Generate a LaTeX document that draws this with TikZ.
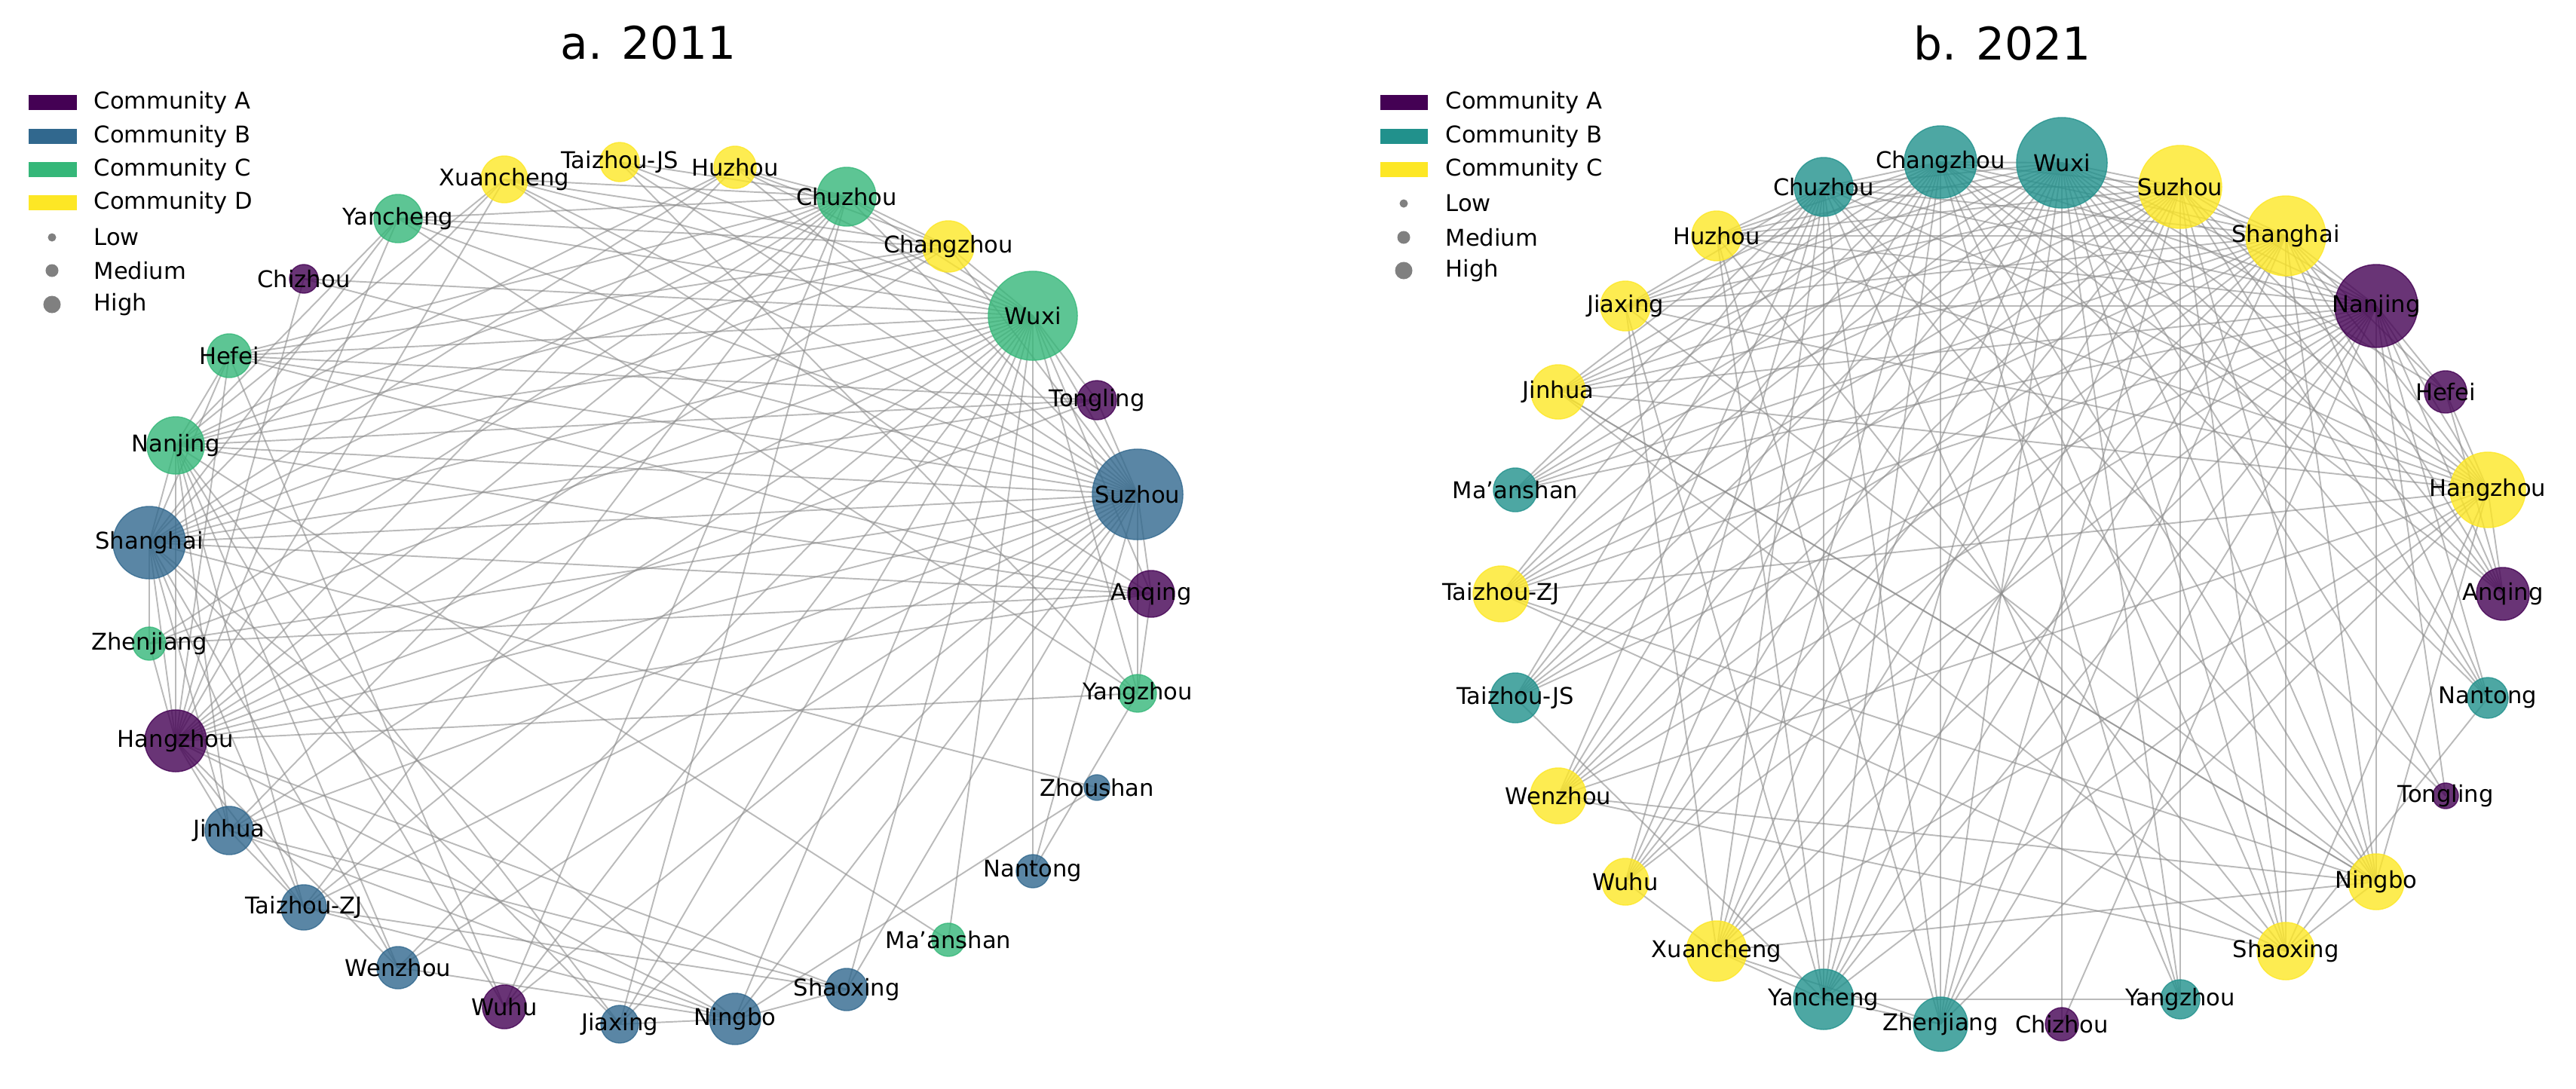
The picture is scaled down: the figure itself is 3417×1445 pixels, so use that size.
\documentclass[tikz,border=0pt]{standalone}
\usepackage{fontspec}
\setmainfont{DejaVu Sans}
\usetikzlibrary{backgrounds}
\definecolor{vA}{HTML}{440154}
\definecolor{vB}{HTML}{31688E}
\definecolor{vC}{HTML}{35B779}
\definecolor{vD}{HTML}{FDE725}
\definecolor{wB}{HTML}{21918C}
\tikzset{
  city/.style={circle,inner sep=0pt,draw=#1,fill=#1,fill opacity=0.8,draw opacity=0.8,line width=0.4pt},
  lbl/.style={inner sep=0pt,font=\fontsize{8.7}{10}\selectfont,text=black},
  edge/.style={draw=black!45,draw opacity=0.6,line width=0.55pt},
  ttl/.style={inner sep=0pt,font=\fontsize{17}{20}\selectfont},
  leg/.style={inner sep=0pt,anchor=west,font=\fontsize{8.7}{10}\selectfont},
  patch/.style={inner sep=0pt,minimum width=0.63cm,minimum height=0.2cm,fill=#1},
  dot/.style={circle,inner sep=0pt,fill=gray,minimum size=#1},
}
\newcommand\city[7]{%
  \node[city=#5,minimum size=#4*0.02cm] (#1) at (#2,#3) {};
  \node[lbl] (#1-t) at (#1) {#6};}
\begin{document}
\begin{tikzpicture}[x=0.01cm,y=-0.01cm]
\useasboundingbox (0,0) rectangle (3417,1445);
% titles
\node[ttl] (ta) at (860,57) {a. 2011};
\node[ttl] (tb) at (2656,57) {b. 2021};
% legend a
\node[patch=vA] (la1) at (70,136) {}; \node[leg] (la1t) at (124,136) {Community A};
\node[patch=vB] (la2) at (70,181) {}; \node[leg] (la2t) at (124,181) {Community B};
\node[patch=vC] (la3) at (70,225) {}; \node[leg] (la3t) at (124,225) {Community C};
\node[patch=vD] (la4) at (70,269) {}; \node[leg] (la4t) at (124,269) {Community D};
\node[dot=0.11cm] (la5) at (69,315) {}; \node[leg] (la5t) at (124,315) {Low};
\node[dot=0.17cm] (la6) at (69,359) {}; \node[leg] (la6t) at (124,359) {Medium};
\node[dot=0.23cm] (la7) at (69,404) {}; \node[leg] (la7t) at (124,404) {High};
% legend b
\node[patch=vA] (lb1) at (1862,136) {}; \node[leg] (lb1t) at (1917,136) {Community A};
\node[patch=wB] (lb2) at (1862,181) {}; \node[leg] (lb2t) at (1917,181) {Community B};
\node[patch=vD] (lb3) at (1862,225) {}; \node[leg] (lb3t) at (1917,225) {Community C};
\node[dot=0.11cm] (lb5) at (1862,270) {}; \node[leg] (lb5t) at (1917,270) {Low};
\node[dot=0.17cm] (lb6) at (1862,315) {}; \node[leg] (lb6t) at (1917,315) {Medium};
\node[dot=0.23cm] (lb7) at (1862,359) {}; \node[leg] (lb7t) at (1917,359) {High};
% ---- panel a nodes
\city{aXuancheng}{669}{238}{31}{vD}{Xuancheng}{}
\city{aTaizhouJS}{822}{215}{26}{vD}{Taizhou-JS}{}
\city{aHuzhou}{975}{222}{28}{vD}{Huzhou}{}
\city{aChuzhou}{1123}{261}{39}{vC}{Chuzhou}{}
\city{aChangzhou}{1258}{327}{34}{vD}{Changzhou}{}
\city{aWuxi}{1370}{419}{59}{vC}{Wuxi}{}
\city{aTongling}{1455}{531}{26}{vA}{Tongling}{}
\city{aSuzhou}{1509}{656}{60}{vB}{Suzhou}{}
\city{aAnqing}{1527}{788}{31}{vA}{Anqing}{}
\city{aYangzhou}{1509}{920}{25}{vC}{Yangzhou}{}
\city{aZhoushan}{1455}{1045}{17}{vB}{Zhoushan}{}
\city{aNantong}{1370}{1156}{22}{vB}{Nantong}{}
\city{aMaanshan}{1258}{1247}{22}{vC}{Ma'anshan}{}
\city{aShaoxing}{1123}{1313}{28}{vB}{Shaoxing}{}
\city{aNingbo}{975}{1352}{34}{vB}{Ningbo}{}
\city{aJiaxing}{822}{1359}{25}{vB}{Jiaxing}{}
\city{aWuhu}{669}{1336}{29}{vA}{Wuhu}{}
\city{aWenzhou}{528}{1284}{28}{vB}{Wenzhou}{}
\city{aTaizhouZJ}{403}{1204}{30}{vB}{Taizhou-ZJ}{}
\city{aJinhua}{304}{1102}{32}{vB}{Jinhua}{}
\city{aHangzhou}{233}{983}{41}{vA}{Hangzhou}{}
\city{aZhenjiang}{198}{854}{22}{vC}{Zhenjiang}{}
\city{aShanghai}{198}{720}{48}{vB}{Shanghai}{}
\city{aNanjing}{233}{591}{38}{vC}{Nanjing}{}
\city{aHefei}{304}{472}{29}{vC}{Hefei}{}
\city{aChizhou}{403}{370}{19}{vA}{Chizhou}{}
\city{aYancheng}{528}{290}{32}{vC}{Yancheng}{}
% ---- panel b nodes
\city{bWuxi}{2735}{216}{60}{wB}{Wuxi}{}
\city{bChangzhou}{2574}{215}{48}{wB}{Changzhou}{}
\city{bSuzhou}{2892}{248}{55}{vD}{Suzhou}{}
\city{bChuzhou}{2419}{248}{39}{wB}{Chuzhou}{}
\city{bShanghai}{3032}{313}{53}{vD}{Shanghai}{}
\city{bHuzhou}{2277}{313}{33}{vD}{Huzhou}{}
\city{bNanjing}{3152}{406}{55}{vA}{Nanjing}{}
\city{bJiaxing}{2156}{406}{33}{vD}{Jiaxing}{}
\city{bHefei}{3244}{520}{28}{vA}{Hefei}{}
\city{bJinhua}{2067}{520}{36}{vD}{Jinhua}{}
\city{bHangzhou}{3300}{650}{50}{vD}{Hangzhou}{}
\city{bMaanshan}{2010}{650}{29}{wB}{Ma'anshan}{}
\city{bAnqing}{3320}{788}{35}{vA}{Anqing}{}
\city{bTaizhouZJ}{1991}{788}{37}{vD}{Taizhou-ZJ}{}
\city{bNantong}{3300}{926}{27}{wB}{Nantong}{}
\city{bTaizhouJS}{2010}{926}{33}{wB}{Taizhou-JS}{}
\city{bTongling}{3244}{1056}{17}{vA}{Tongling}{}
\city{bWenzhou}{2067}{1056}{37}{vD}{Wenzhou}{}
\city{bNingbo}{3152}{1170}{37}{vD}{Ningbo}{}
\city{bWuhu}{2156}{1170}{31}{vD}{Wuhu}{}
\city{bShaoxing}{3032}{1262}{38}{vD}{Shaoxing}{}
\city{bXuancheng}{2277}{1262}{40}{vD}{Xuancheng}{}
\city{bYangzhou}{2892}{1326}{26}{wB}{Yangzhou}{}
\city{bYancheng}{2419}{1326}{40}{wB}{Yancheng}{}
\city{bChizhou}{2735}{1359}{22}{vA}{Chizhou}{}
\city{bZhenjiang}{2574}{1359}{36}{wB}{Zhenjiang}{}
% ---- edges
\begin{scope}[on background layer]
\foreach \s/\list in {
 Wuxi/{Chuzhou,Changzhou,Huzhou,TaizhouJS,Xuancheng,Yancheng,Chizhou,Hefei,Nanjing,Shanghai,Zhenjiang,Hangzhou,Jinhua,TaizhouZJ,Wenzhou,Wuhu,Jiaxing,Ningbo,Shaoxing,Nantong,Maanshan,Suzhou,Tongling,Anqing,Yangzhou},
 Suzhou/{Tongling,Anqing,Yangzhou,Changzhou,Chuzhou,Huzhou,TaizhouJS,Xuancheng,Yancheng,Hefei,Nanjing,Shanghai,Zhenjiang,Hangzhou,Jinhua,TaizhouZJ,Wenzhou,Wuhu,Jiaxing,Ningbo,Shaoxing,Nantong,Chizhou},
 Shanghai/{Nanjing,Hefei,Yancheng,Xuancheng,Chuzhou,Changzhou,Anqing,Tongling,Zhoushan,Hangzhou,Jinhua,TaizhouZJ,Wenzhou,Zhenjiang,Ningbo,Jiaxing,Huzhou},
 Hangzhou/{Nanjing,Hefei,Yancheng,Xuancheng,Chuzhou,Huzhou,Anqing,Yangzhou,Tongling,Jinhua,TaizhouZJ,Wenzhou,Ningbo,Shaoxing,Changzhou,Zhenjiang},
 Nanjing/{Hefei,Chuzhou,Changzhou,Anqing,Tongling,Maanshan,Jinhua,TaizhouZJ,Wenzhou,Yancheng,Xuancheng,Huzhou,Jiaxing,Wuhu},
 Chuzhou/{Changzhou,Huzhou,TaizhouJS,Xuancheng,Yancheng,Hefei,Zhenjiang,Jinhua,TaizhouZJ,Wuhu,Jiaxing},
 Changzhou/{Xuancheng,Yancheng,Hefei,Huzhou},
 Ningbo/{Jiaxing,Shaoxing,Zhoushan,Jinhua,TaizhouZJ,Wenzhou},
 Hefei/{Tongling,Anqing,Wuhu},
 Anqing/{Zhenjiang,Yangzhou,Xuancheng},
 Yangzhou/{Yancheng,TaizhouJS},
 Jinhua/{Shaoxing,TaizhouZJ},
 TaizhouZJ/{Shaoxing},
 Chizhou/{Hangzhou},
 Nantong/{Yangzhou}}
 { \foreach \t in \list { \draw[edge] (a\s.center) -- (a\t.center); } }
\foreach \s/\list in {
 Wuxi/{Changzhou,Suzhou,Chuzhou,Huzhou,Jiaxing,Jinhua,Maanshan,TaizhouZJ,TaizhouJS,Wenzhou,Wuhu,Xuancheng,Yancheng,Zhenjiang,Chizhou,Yangzhou,Shaoxing,Ningbo,Nantong,Anqing,Hangzhou,Hefei,Nanjing,Shanghai,Tongling},
 Changzhou/{Suzhou,Chuzhou,Huzhou,Jiaxing,Jinhua,Maanshan,TaizhouZJ,TaizhouJS,Wenzhou,Wuhu,Xuancheng,Yancheng,Zhenjiang,Yangzhou,Shaoxing,Ningbo,Nantong,Anqing,Hangzhou,Nanjing,Shanghai},
 Suzhou/{Chuzhou,Huzhou,Jiaxing,Jinhua,Maanshan,TaizhouZJ,TaizhouJS,Wenzhou,Wuhu,Xuancheng,Yancheng,Zhenjiang,Shaoxing,Ningbo,Nantong,Anqing,Hangzhou,Nanjing,Shanghai,Yangzhou},
 Shanghai/{Chuzhou,Huzhou,Jiaxing,Jinhua,Maanshan,TaizhouZJ,TaizhouJS,Wenzhou,Wuhu,Xuancheng,Yancheng,Zhenjiang,Shaoxing,Ningbo,Nantong,Anqing,Hangzhou,Hefei,Nanjing},
 Nanjing/{Chuzhou,Huzhou,Jiaxing,Jinhua,Maanshan,TaizhouZJ,TaizhouJS,Wenzhou,Wuhu,Xuancheng,Yancheng,Zhenjiang,Ningbo,Nantong,Anqing,Hangzhou,Hefei,Tongling,Chizhou},
 Hangzhou/{Huzhou,Jiaxing,Jinhua,TaizhouZJ,Wenzhou,Xuancheng,Yancheng,Zhenjiang,Shaoxing,Ningbo,Anqing,Hefei,Chuzhou},
 Chuzhou/{Huzhou,Jiaxing,Jinhua,Maanshan,TaizhouZJ,TaizhouJS,Wenzhou,Wuhu,Xuancheng,Yancheng,Zhenjiang,Ningbo,Yangzhou,Tongling},
 Ningbo/{Wenzhou,Jinhua,TaizhouZJ,Xuancheng,Shaoxing,Jiaxing},
 Shaoxing/{Wenzhou,Jinhua,Nantong,Huzhou,TaizhouZJ},
 Yancheng/{Zhenjiang,Yangzhou,Xuancheng,TaizhouJS,Huzhou,Jiaxing},
 Zhenjiang/{Huzhou,Xuancheng},
 Xuancheng/{Wuhu,Jiaxing},
 Anqing/{Hefei},
 Jinhua/{Ningbo}}
 { \foreach \t in \list { \draw[edge] (b\s.center) -- (b\t.center); } }
\end{scope}
\end{tikzpicture}
\end{document}
